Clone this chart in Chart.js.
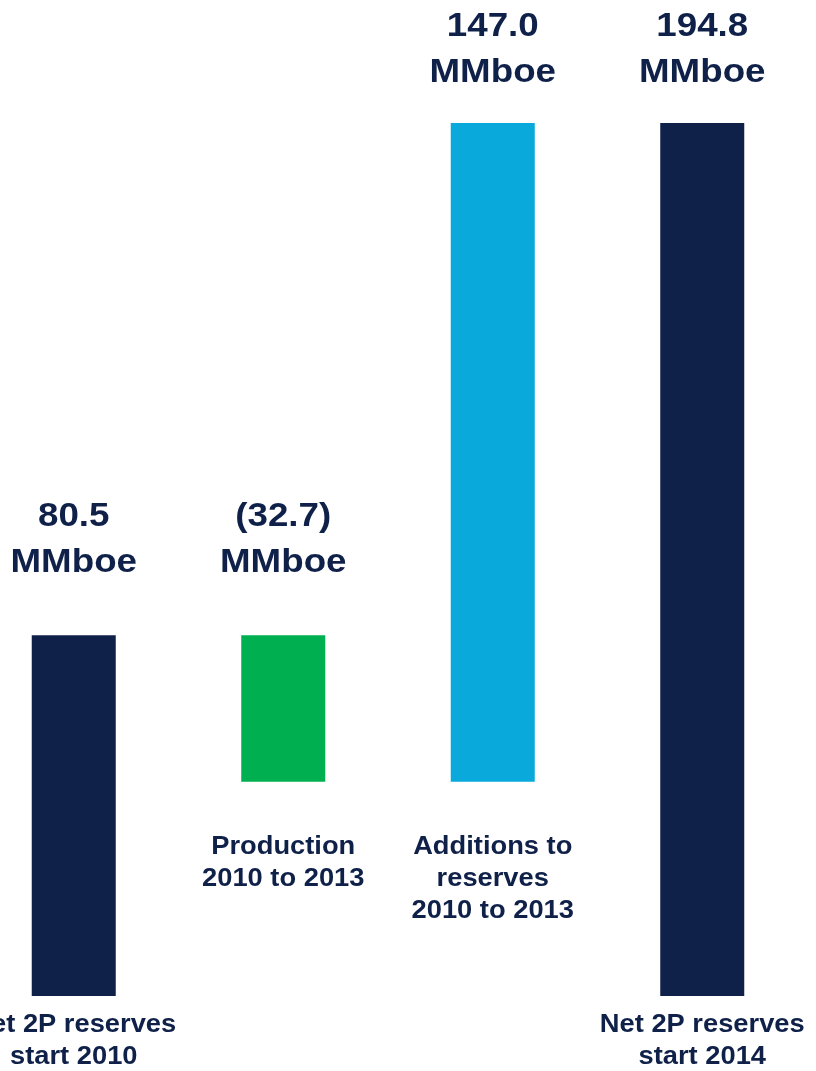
<!DOCTYPE html>
<html>
<head>
<meta charset="utf-8">
<title>Net 2P reserves</title>
<script src="https://cdn.jsdelivr.net/npm/chart.js@4/dist/chart.umd.min.js"></script>
<style>
    html, body { margin: 0; padding: 0; background: #ffffff; overflow: hidden; }
    #wrap { position: relative; width: 816px; height: 1071px; overflow: hidden; }
    #reserves { position: absolute; left: -32px; top: 0; }
</style>
</head>
<body>
<div id="wrap"><canvas id="reserves" width="840" height="1071"></canvas></div>
<script>
// Waterfall steps (MMboe)
const categories = [
    ['Net 2P reserves', 'start 2010'],
    ['Production', '2010 to 2013'],
    ['Additions to', 'reserves', '2010 to 2013'],
    ['Net 2P reserves', 'start 2014']
];
const changes = [80.5, -32.7, 147.0, 194.8];
const isTotal = [true, false, false, true];
const unit = 'MMboe';

const NAVY = '#0f2049';
const barColors = [NAVY, '#00b050', '#09a9db', NAVY];

// running total -> [from, to] pairs for floating bars
let running = 0;
const ranges = changes.map((v, i) => {
    if (isTotal[i]) {
        running = v;
        return [0, v];
    }
    const from = running;
    running = running + v;
    return [from, running];
});

function fmt(v) {
    return v < 0 ? '(' + Math.abs(v).toFixed(1) + ')' : v.toFixed(1);
}

// text drawn slightly wide, like the original deck font
function wideText(ctx, text, x, y, sx) {
    ctx.save();
    ctx.translate(x, y);
    ctx.scale(sx, 1);
    ctx.fillText(text, 0, 0);
    ctx.restore();
}

//Labels above and below each bar
const barLabels = {
    id: 'barLabels',
    afterDatasetsDraw(chart) {
        const ctx = chart.ctx;
        const meta = chart.getDatasetMeta(0);
        ctx.save();
        ctx.fillStyle = NAVY;
        ctx.textAlign = 'center';
        ctx.textBaseline = 'middle';
        meta.data.forEach((bar, i) => {
            const top = Math.min(bar.y, bar.base);
            const bottom = Math.max(bar.y, bar.base);

            // value + unit
            ctx.font = 'bold 34px "Liberation Sans", Arial, sans-serif';
            const y1 = Math.max(top - 119, 27);
            wideText(ctx, fmt(changes[i]), bar.x, y1, 1.08);
            wideText(ctx, unit, bar.x, y1 + 46, 1.08);

            // category name
            ctx.font = 'bold 26px "Liberation Sans", Arial, sans-serif';
            const start = bottom + (isTotal[i] ? 29 : 65);
            categories[i].forEach((line, k) => {
                wideText(ctx, line, bar.x, start + k * 32, 1.05);
            });
        });
        ctx.restore();
    }
};

new Chart(document.getElementById('reserves'), {
    type: 'bar',
    data: {
        labels: categories.map(c => c.join(' ')),
        datasets: [{
            data: ranges,
            backgroundColor: barColors,
            borderWidth: 0,
            categoryPercentage: 1,
            barPercentage: 0.401
        }]
    },
    options: {
        responsive: false,
        animation: false,
        layout: { padding: { left: 1, right: 1, top: 10, bottom: 75 } },
        plugins: {
            legend: { display: false },
            tooltip: { enabled: false }
        },
        scales: {
            x: { display: false },
            y: { display: false, min: 0, max: 220 }
        }
    },
    plugins: [barLabels]
});
</script>
</body>
</html>
